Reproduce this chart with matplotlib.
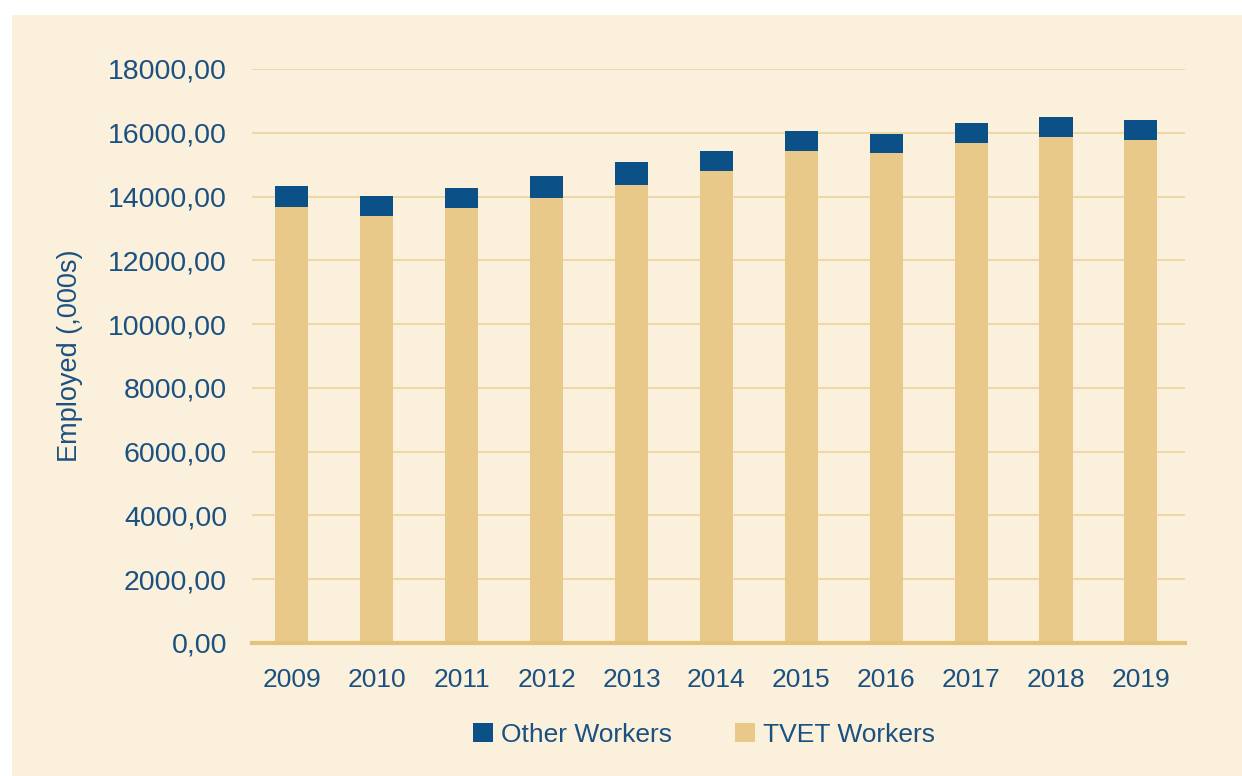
import matplotlib.pyplot as plt
from matplotlib.patches import Rectangle

plt.rcParams['font.family'] = ['Liberation Sans', 'DejaVu Sans']

# employed workers in thousands, read per year
years = ['2009', '2010', '2011', '2012', '2013', '2014',
         '2015', '2016', '2017', '2018', '2019']
tvet_workers = [13670, 13390, 13630, 13945, 14360, 14810,
                15440, 15355, 15690, 15865, 15785]
other_workers = [660, 625, 630, 700, 730, 625,
                 605, 595, 615, 620, 615]

bg = '#faf0dc'
tan = '#e9c98a'
navy = '#0c5088'
text_col = '#1b5180'
grid_col = '#ecd7a0'

fig = plt.figure(figsize=(12.42, 7.76), dpi=100, facecolor=bg)
# white margin along the top and left edges
fig.patches.append(Rectangle((0, 1 - 15 / 776), 1, 15 / 776, transform=fig.transFigure,
                             facecolor='white', edgecolor='none', zorder=0))
fig.patches.append(Rectangle((0, 0), 12 / 1242, 1, transform=fig.transFigure,
                             facecolor='white', edgecolor='none', zorder=0))

ax = fig.add_axes([252 / 1242, 1 - 643 / 776, (1185 - 252) / 1242, (643 - 69) / 776])
ax.set_facecolor(bg)

x = list(range(len(years)))
ax.bar(x, tvet_workers, width=0.39, color=tan, label='TVET Workers', zorder=2)
ax.bar(x, other_workers, width=0.39, bottom=tvet_workers, color=navy,
       label='Other Workers', zorder=2)

ax.set_xlim(-0.47, 10.52)
ax.set_ylim(0, 18000)
ax.set_yticks(range(0, 18001, 2000))
ax.set_yticklabels([f'{v:.2f}'.replace('.', ',') for v in range(0, 18001, 2000)])
ax.set_xticks(x)
ax.set_xticklabels(years)

ax.yaxis.grid(True, color=grid_col, linewidth=1.3, zorder=1)
for s in ['top', 'right', 'left']:
    ax.spines[s].set_visible(False)
ax.spines['bottom'].set_color('#e3c27c')
ax.spines['bottom'].set_linewidth(3)
ax.spines['bottom'].set_zorder(3)

ax.tick_params(axis='y', length=0, pad=18, labelsize=20.5, labelcolor=text_col)
ax.tick_params(axis='x', length=0, pad=18, labelsize=19, labelcolor=text_col)

ax.set_ylabel('Employed (,000s)', fontsize=19.5, color=text_col, labelpad=18)

handles, labels = ax.get_legend_handles_labels()
fig.legend(handles[::-1], labels[::-1], loc='center', bbox_to_anchor=(704 / 1242, 1 - 735 / 776),
           ncol=2, frameon=False, fontsize=19, labelcolor=text_col,
           handlelength=0.75, handleheight=0.75, handletextpad=0.3, columnspacing=2.4)

fig.savefig('out.png', dpi=100, facecolor=bg)
